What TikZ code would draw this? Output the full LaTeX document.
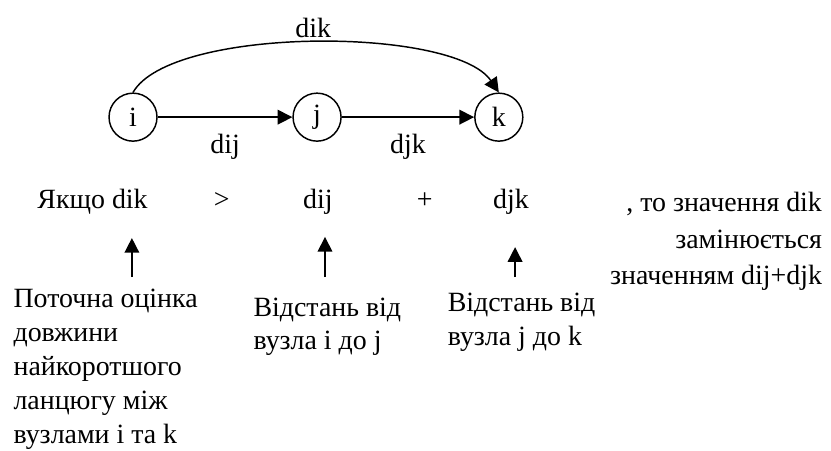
\documentclass[tikz,border=0pt]{standalone}
\usepackage{fontspec}
\setmainfont{Liberation Serif}
\usetikzlibrary{arrows.meta}
\usetikzlibrary{positioning}
\tikzset{
    Node/.style = {circle, draw=black, align=center, minimum size=1.27cm, inner sep=0pt}
}
\tikzset{
    Edge/.style = {draw=black, line width=1.1pt, -{Triangle[length=11pt,width=11pt]}}
}

\begin{document}
\begin{tikzpicture}[
    line width=1.1pt,
    font=\fontsize{21}{25.5}\selectfont
]
\tikzset{
    term/.style = {anchor=base, inner sep=0pt},
    note/.style = {anchor=base west, align=left, inner sep=0pt},
}
\useasboundingbox (0,0) rectangle (21.99,11.91);
% vertices
\node[Node] at (3.52,8.81) (i) {i};
\node[Node] at (8.39,8.81) (j) {j};
\node[Node] at (13.20,8.81) (k) {k};
\path (i) edge [Edge] node[below=9pt] {dij} (j);
\path (j) edge [Edge] node[below=9pt] {djk} (k);
\draw[Edge] (i.north) .. controls (4.52,11.22) and (12.01,11.22) .. node[above] {dik} (k.north);
% the test
\node[term] at (2.45,6.38) (cond) {Якщо dik};
\node[term] at (5.87,6.38) (gt) {>};
\node[term] at (8.41,6.38) (dij) {dij};
\node[term] at (11.24,6.38) (plus) {+};
\node[term] at (13.52,6.38) (djk) {djk};
% base of a multi-line node is its last line
\node[anchor=base east, align=right, inner sep=0pt, font=\fontsize{21}{27.75}\selectfont] at (21.77,4.37) (then) {, то значення dik\\замінюється\\значенням dij+djk};
% pointers to the terms
\coordinate (t1) at (3.49,5.61);
\coordinate (b1) at (3.49,4.58);
\coordinate (t2) at (8.60,5.64);
\coordinate (b2) at (8.60,4.58);
\coordinate (t3) at (13.63,5.37);
\coordinate (b3) at (13.63,4.58);
\draw[Edge] (b1) -- (t1);
\draw[Edge] (b2) -- (t2);
\draw[Edge] (b3) -- (t3);
% what each term means
\node[note] at (0.34,0.18) (est) {Поточна оцінка\\довжини\\найкоротшого\\ланцюгу між\\вузлами і та k};
\node[note] at (6.69,2.65) (distij) {Відстань від\\вузла і до j};
\node[note] at (11.83,2.78) (distjk) {Відстань від\\вузла j до k};
\end{tikzpicture}
\end{document}
